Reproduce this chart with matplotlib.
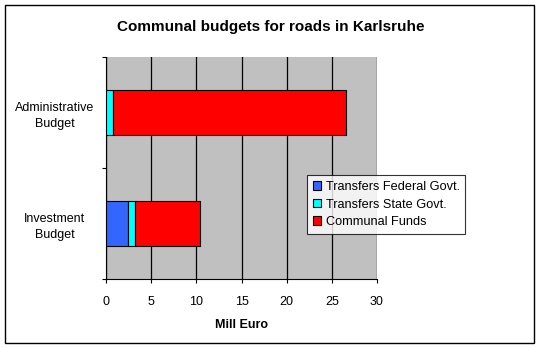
import matplotlib
matplotlib.use("Agg")
import matplotlib.pyplot as plt
from matplotlib.patches import Rectangle, Patch

categories = ["Investment\nBudget", "Administrative\nBudget"]
series_names = ["Transfers Federal Govt.", "Transfers State Govt.", "Communal Funds"]
federal = [2.4, 0.0]
state = [0.85, 0.8]
communal = [7.2, 25.8]
colors = ["#3366FF", "#00FFFF", "#FF0000"]
xticks = [0, 5, 10, 15, 20, 25, 30]

plt.rcParams['font.family'] = ['Liberation Sans', 'DejaVu Sans']

W, H = 540, 348
fig = plt.figure(figsize=(W / 100, H / 100), dpi=100)
fig.patch.set_facecolor("white")

# outer border
fig.patches.append(Rectangle((5 / W, 1 - 343 / H), 529 / W, 338 / H, transform=fig.transFigure,
                             fill=False, edgecolor="black", linewidth=1.0))

left, right, top, bottom = 106, 377, 57, 279
ax = fig.add_axes([left / W, 1 - bottom / H, (right - left) / W, (bottom - top) / H])
ax.set_facecolor("#C0C0C0")

ypos = list(range(len(categories)))
lefts = [0.0] * len(categories)
handles = []
for name, vals, c in zip(series_names, [federal, state, communal], colors):
    ax.barh(ypos, vals, left=lefts, height=0.4, color=c, edgecolor="black", linewidth=0.8, zorder=3)
    lefts = [a + b for a, b in zip(lefts, vals)]
    handles.append(Patch(facecolor=c, edgecolor="black", linewidth=0.8, label=name))

ax.set_xlim(0, 30)
ax.set_ylim(-0.5, 1.5)
ax.set_xticks(xticks)
ax.set_xticklabels([str(x) for x in xticks], fontsize=9)
ax.xaxis.grid(True, color="black", linewidth=0.9, zorder=1)
ax.set_axisbelow(True)

ax.set_yticks([-0.5, 0.5, 1.5])
ax.set_yticklabels([])
ax.set_yticks(ypos, minor=True)
ax.set_yticklabels(categories, minor=True, fontsize=9, ha="center", linespacing=1.45)
ax.tick_params(axis="y", which="minor", length=0, pad=37)
ax.tick_params(axis="y", which="major", length=3, width=0.8, direction="out")
ax.tick_params(axis="x", length=3, width=0.8, direction="out", pad=9)

for s in ["top", "right"]:
    ax.spines[s].set_visible(False)
ax.spines["left"].set_linewidth(0.8)
ax.spines["bottom"].set_linewidth(0.8)

ax.set_xlabel("Mill Euro", fontsize=9, fontweight="bold", labelpad=8)

fig.text(271 / W, 1 - 27 / H, "Communal budgets for roads in Karlsruhe", ha="center", va="center",
         fontsize=11, fontweight="bold")

leg = fig.legend(handles=handles, loc="upper left", bbox_to_anchor=(307 / W, 1 - 175 / H),
                 fontsize=9.2, frameon=True, fancybox=False, shadow=False,
                 handlelength=0.65, handleheight=0.65, handletextpad=0.35,
                 borderpad=0.45, labelspacing=0.45, borderaxespad=0)
leg.get_frame().set_edgecolor("black")
leg.get_frame().set_linewidth(0.8)
leg.set_zorder(10)

fig.savefig("out.png", dpi=100)
